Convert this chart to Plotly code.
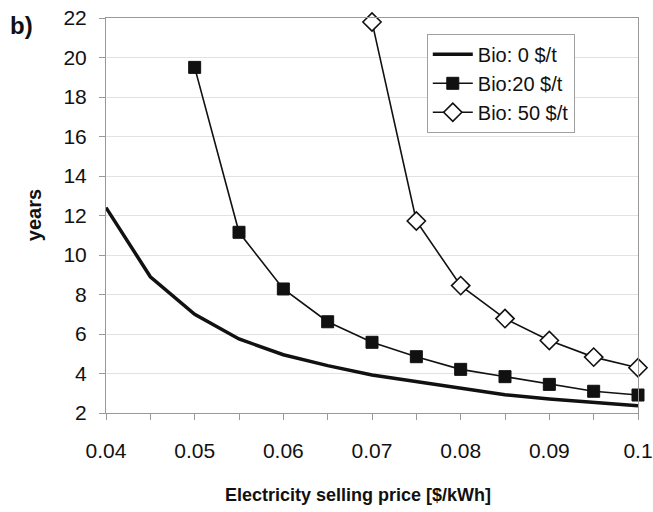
import plotly.graph_objects as go

# Electricity selling price [$/kWh]
price_bio0 = [0.04, 0.045, 0.05, 0.055, 0.06, 0.065, 0.07, 0.075, 0.08, 0.085, 0.09, 0.095, 0.1]
years_bio0 = [12.4, 8.9, 7.0, 5.75, 4.95, 4.4, 3.92, 3.58, 3.22, 2.92, 2.71, 2.52, 2.37]

price_bio20 = [0.05, 0.055, 0.06, 0.065, 0.07, 0.075, 0.08, 0.085, 0.09, 0.095, 0.1]
years_bio20 = [19.5, 11.15, 8.28, 6.62, 5.58, 4.85, 4.21, 3.84, 3.45, 3.10, 2.91]

price_bio50 = [0.07, 0.075, 0.08, 0.085, 0.09, 0.095, 0.1]
years_bio50 = [21.8, 11.72, 8.45, 6.78, 5.67, 4.83, 4.29]

x_tickvals = [0.04, 0.05, 0.06, 0.07, 0.08, 0.09, 0.1]
x_ticktext = ["0.04", "0.05", "0.06", "0.07", "0.08", "0.09", "0.1"]
y_tickvals = [2, 4, 6, 8, 10, 12, 14, 16, 18, 20, 22]

FONT = "Liberation Sans, Arial, sans-serif"
INK = "#111111"

fig = go.Figure()
fig.add_trace(go.Scatter(
    x=price_bio0, y=years_bio0, mode="lines", name="Bio: 0 $/t",
    line=dict(color=INK, width=3.5), cliponaxis=False))
fig.add_trace(go.Scatter(
    x=price_bio20, y=years_bio20, mode="lines+markers", name="Bio:20 $/t",
    line=dict(color=INK, width=1.6),
    marker=dict(symbol="square", size=12, color=INK, line=dict(color=INK, width=1)),
    cliponaxis=False))
fig.add_trace(go.Scatter(
    x=price_bio50, y=years_bio50, mode="lines+markers", name="Bio: 50 $/t",
    line=dict(color=INK, width=1.6),
    marker=dict(symbol="diamond", size=14, color="white", line=dict(color=INK, width=1.6)),
    cliponaxis=False))

fig.update_layout(
    width=653, height=512,
    margin=dict(l=106, r=15, t=18, b=99),
    paper_bgcolor="white", plot_bgcolor="white",
    font=dict(family=FONT, size=21, color=INK),
    showlegend=True,
    legend=dict(
        x=0.603, y=0.96, xanchor="left", yanchor="top",
        bgcolor="white", bordercolor="#a0a0a0", borderwidth=1,
        font=dict(family=FONT, size=20, color=INK),
        tracegroupgap=2, itemwidth=40,
    ),
    xaxis=dict(
        range=[0.04, 0.1], automargin=False,
        tickvals=x_tickvals, ticktext=x_ticktext,
        ticks="outside", ticklen=6, tickcolor="#999999", tickwidth=1,
        minor=dict(dtick=0.005, tick0=0.04, ticks="outside", ticklen=6,
                   tickcolor="#999999", showgrid=False),
        showgrid=False, zeroline=False,
        showline=True, linecolor="#999999", linewidth=1, mirror=True,
        tickfont=dict(size=21), ticklabelstandoff=13,
    ),
    yaxis=dict(
        range=[2, 22], automargin=False,
        tickvals=y_tickvals,
        ticks="outside", ticklen=6, tickcolor="#999999", tickwidth=1,
        showgrid=True, gridcolor="#e2e2e2", gridwidth=1, zeroline=False,
        showline=True, linecolor="#999999", linewidth=1, mirror=True,
        tickfont=dict(size=21), ticklabelstandoff=8,
    ),
    annotations=[
        dict(text="<b>b)</b>", xref="paper", yref="paper",
             x=-0.185, y=0.98, xanchor="left", yanchor="middle",
             showarrow=False, font=dict(family=FONT, size=24, color=INK)),
        dict(text="<b>Electricity selling price [$/kWh]</b>",
             xref="paper", yref="paper", x=0.474, y=-0.208,
             xanchor="center", yanchor="middle", showarrow=False,
             font=dict(family=FONT, size=18, color=INK)),
        dict(text="<b>years</b>", xref="paper", yref="paper",
             x=-0.136, y=0.5, xanchor="center", yanchor="middle",
             textangle=-90, showarrow=False,
             font=dict(family=FONT, size=20, color=INK)),
    ],
)

fig.write_html("out.html")
